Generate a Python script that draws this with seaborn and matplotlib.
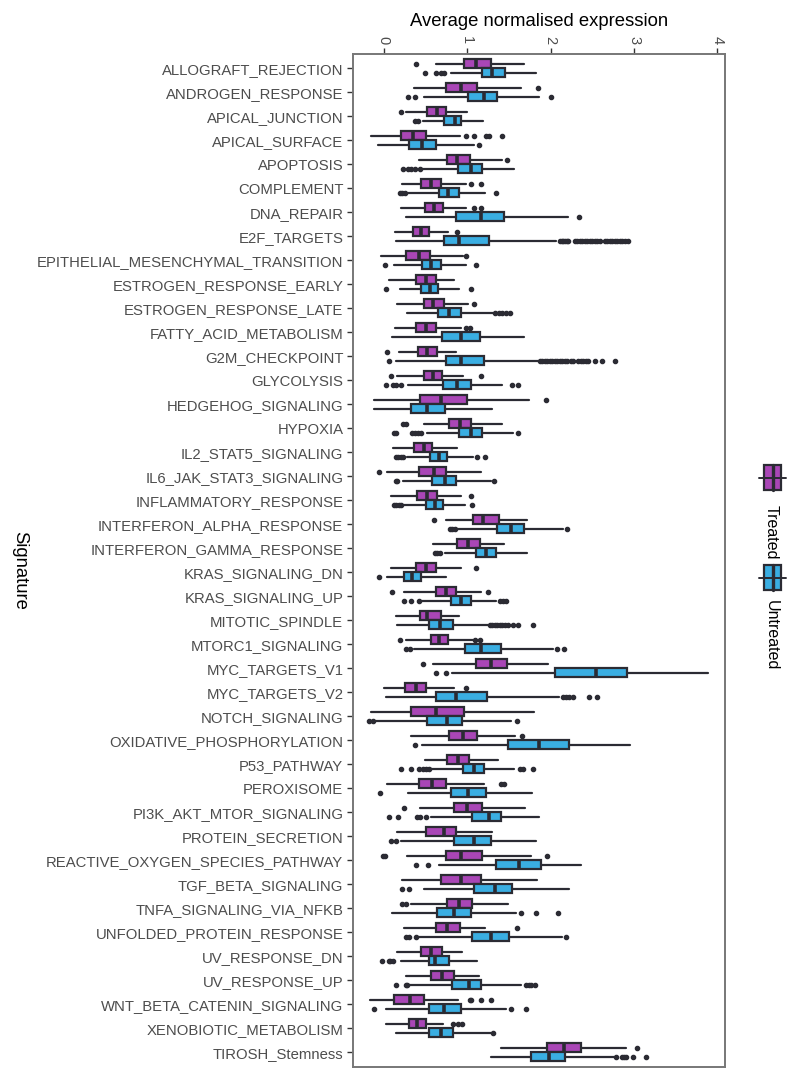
import numpy as np
import matplotlib
matplotlib.use("Agg")
import matplotlib.pyplot as plt
from matplotlib.patches import Rectangle
import seaborn as sns

signatures = [
    "ALLOGRAFT_REJECTION", "ANDROGEN_RESPONSE", "APICAL_JUNCTION", "APICAL_SURFACE",
    "APOPTOSIS", "COMPLEMENT", "DNA_REPAIR", "E2F_TARGETS",
    "EPITHELIAL_MESENCHYMAL_TRANSITION", "ESTROGEN_RESPONSE_EARLY", "ESTROGEN_RESPONSE_LATE",
    "FATTY_ACID_METABOLISM", "G2M_CHECKPOINT", "GLYCOLYSIS", "HEDGEHOG_SIGNALING", "HYPOXIA",
    "IL2_STAT5_SIGNALING", "IL6_JAK_STAT3_SIGNALING", "INFLAMMATORY_RESPONSE",
    "INTERFERON_ALPHA_RESPONSE", "INTERFERON_GAMMA_RESPONSE", "KRAS_SIGNALING_DN",
    "KRAS_SIGNALING_UP", "MITOTIC_SPINDLE", "MTORC1_SIGNALING", "MYC_TARGETS_V1",
    "MYC_TARGETS_V2", "NOTCH_SIGNALING", "OXIDATIVE_PHOSPHORYLATION", "P53_PATHWAY",
    "PEROXISOME", "PI3K_AKT_MTOR_SIGNALING", "PROTEIN_SECRETION",
    "REACTIVE_OXYGEN_SPECIES_PATHWAY", "TGF_BETA_SIGNALING", "TNFA_SIGNALING_VIA_NFKB",
    "UNFOLDED_PROTEIN_RESPONSE", "UV_RESPONSE_DN", "UV_RESPONSE_UP",
    "WNT_BETA_CATENIN_SIGNALING", "XENOBIOTIC_METABOLISM", "TIROSH_Stemness",
]
groups = ["Treated", "Untreated"]

# Treated: whisker low, Q1, median, Q3, whisker high, outliers
treated_wlo = [0.63, 0.36, 0.26, -0.15, 0.42, 0.22, 0.21, 0.13, -0.03, 0.06, 0.16, 0.13, 0.18, 0.16,
               -0.12, 0.48, 0.11, 0.04, 0.08, 0.74, 0.59, 0.08, 0.24, 0.14, 0.26, 0.59, 0.00, -0.15,
               0.33, 0.49, 0.04, 0.43, 0.16, 0.28, 0.22, 0.33, 0.24, 0.16, 0.27, -0.17, 0.03, 1.41]
treated_q1 = [0.96, 0.74, 0.52, 0.20, 0.76, 0.44, 0.49, 0.35, 0.27, 0.39, 0.48, 0.38, 0.41, 0.48,
              0.43, 0.78, 0.36, 0.42, 0.40, 1.07, 0.88, 0.38, 0.62, 0.43, 0.56, 1.11, 0.25, 0.33,
              0.78, 0.76, 0.42, 0.84, 0.51, 0.74, 0.68, 0.76, 0.62, 0.45, 0.56, 0.12, 0.30, 1.96]
treated_med = [1.11, 0.92, 0.64, 0.35, 0.88, 0.56, 0.60, 0.44, 0.42, 0.51, 0.59, 0.50, 0.52, 0.59,
               0.69, 0.91, 0.48, 0.60, 0.52, 1.19, 1.01, 0.50, 0.75, 0.52, 0.66, 1.29, 0.38, 0.63,
               0.95, 0.89, 0.58, 1.00, 0.72, 0.93, 0.92, 0.90, 0.76, 0.57, 0.70, 0.31, 0.40, 2.16]
treated_q3 = [1.28, 1.12, 0.74, 0.51, 1.03, 0.68, 0.71, 0.54, 0.55, 0.62, 0.72, 0.62, 0.64, 0.70,
              1.00, 1.05, 0.58, 0.75, 0.64, 1.38, 1.15, 0.62, 0.87, 0.68, 0.77, 1.48, 0.51, 0.96,
              1.12, 1.02, 0.74, 1.18, 0.87, 1.18, 1.16, 1.06, 0.91, 0.70, 0.84, 0.48, 0.51, 2.36]
treated_whi = [1.68, 1.65, 1.00, 0.91, 1.42, 0.99, 0.98, 0.77, 0.95, 0.84, 1.01, 0.93, 0.86, 0.95,
               1.74, 1.42, 0.88, 1.17, 0.93, 1.72, 1.44, 0.92, 1.17, 0.90, 1.07, 1.97, 0.84, 1.80,
               1.57, 1.37, 1.20, 1.69, 1.30, 1.76, 1.84, 1.49, 1.21, 0.94, 1.14, 0.89, 0.71, 2.90]
treated_out = [
    [0.39], [1.85], [0.21], [0.98, 1.08, 1.22, 1.26, 1.42], [1.48], [1.04, 1.16], [1.08, 1.17],
    [0.88], [0.98], [], [1.08], [0.98, 1.03], [0.04], [0.08, 1.16], [1.94], [0.23, 0.26], [],
    [-0.06], [1.05], [0.60], [], [1.11], [0.10, 1.25], [], [0.19, 1.09, 1.15], [0.47], [0.98], [],
    [1.66], [], [1.41, 1.44], [0.24], [], [-0.01, 0.01, 1.95], [], [0.22, 0.26], [1.60], [], [],
    [1.03, 1.05, 1.16, 1.29], [0.83, 0.89, 0.94], [3.04],
]

# Untreated
untreated_wlo = [0.80, 0.48, 0.47, -0.07, 0.46, 0.29, 0.26, 0.14, 0.12, 0.19, 0.28, 0.10, 0.14, 0.29,
                 -0.12, 0.52, 0.28, 0.23, 0.24, 0.87, 0.73, 0.04, 0.46, 0.16, 0.36, 0.82, 0.02, -0.09,
                 0.46, 0.57, 0.29, 0.56, 0.20, 0.66, 0.48, 0.10, 0.41, 0.20, 0.29, 0.02, 0.15, 1.28]
untreated_q1 = [1.18, 1.01, 0.72, 0.30, 0.89, 0.66, 0.86, 0.72, 0.46, 0.45, 0.65, 0.70, 0.75, 0.71,
                0.33, 0.90, 0.55, 0.58, 0.51, 1.36, 1.10, 0.24, 0.80, 0.54, 0.97, 2.05, 0.62, 0.52,
                1.49, 0.95, 0.80, 1.06, 0.84, 1.34, 1.08, 0.64, 1.06, 0.54, 0.82, 0.54, 0.54, 1.77]
untreated_med = [1.30, 1.20, 0.85, 0.46, 1.04, 0.77, 1.16, 0.90, 0.57, 0.55, 0.78, 0.92, 0.92, 0.88,
                 0.52, 1.04, 0.66, 0.73, 0.61, 1.52, 1.22, 0.34, 0.92, 0.67, 1.17, 2.54, 0.87, 0.76,
                 1.86, 1.08, 1.01, 1.26, 1.08, 1.62, 1.33, 0.84, 1.28, 0.61, 1.02, 0.72, 0.68, 1.98]
untreated_q3 = [1.45, 1.36, 0.92, 0.62, 1.18, 0.90, 1.44, 1.26, 0.68, 0.65, 0.92, 1.15, 1.20, 1.04,
                0.73, 1.18, 0.76, 0.87, 0.71, 1.68, 1.34, 0.44, 1.04, 0.83, 1.40, 2.92, 1.24, 0.94,
                2.22, 1.20, 1.22, 1.41, 1.28, 1.88, 1.54, 1.04, 1.50, 0.78, 1.17, 0.92, 0.83, 2.17]
untreated_whi = [1.82, 1.86, 1.19, 1.08, 1.56, 1.21, 2.21, 2.06, 0.98, 0.90, 1.31, 1.68, 1.85, 1.42,
                 1.30, 1.55, 1.07, 1.28, 0.97, 2.15, 1.72, 0.74, 1.35, 1.25, 2.03, 3.89, 2.10, 1.52,
                 2.95, 1.56, 1.78, 1.86, 1.82, 2.36, 2.22, 1.58, 2.13, 1.12, 1.64, 1.46, 1.28, 2.76]
untreated_out = [
    [0.49, 0.63, 0.69, 0.72], [0.29, 0.37, 2.00], [0.37, 0.41], [1.14],
    [0.23, 0.29, 0.33, 0.37, 0.43], [0.19, 0.22, 0.25, 1.34], [2.34],
    [2.11, 2.13, 2.15, 2.17, 2.19, 2.21, 2.29, 2.32, 2.35, 2.38, 2.41, 2.44, 2.47, 2.50, 2.53,
     2.56, 2.59, 2.65, 2.68, 2.71, 2.74, 2.77, 2.80, 2.83, 2.86, 2.89, 2.93],
    [0.01, 1.10], [0.02, 1.04], [1.33, 1.38, 1.42, 1.47, 1.51], [],
    [0.06, 1.87, 1.90, 1.93, 1.96, 1.99, 2.02, 2.05, 2.08, 2.11, 2.14, 2.17, 2.20, 2.24, 2.27,
     2.33, 2.36, 2.39, 2.42, 2.45, 2.53, 2.62, 2.77],
    [0.03, 0.11, 0.14, 0.21, 1.54, 1.61], [],
    [0.12, 0.14, 0.34, 0.37, 0.41, 0.44, 1.61], [0.14, 0.17, 0.20, 0.23, 1.12, 1.21],
    [0.14, 0.16, 1.32], [0.12, 0.15, 0.18, 0.21, 1.06], [0.79, 0.82, 0.85, 2.20],
    [0.61, 0.64, 0.67], [-0.06], [0.24, 0.33, 0.42, 1.39, 1.43, 1.47],
    [1.27, 1.30, 1.33, 1.36, 1.39, 1.42, 1.45, 1.49, 1.55, 1.61, 1.79],
    [0.27, 0.31, 2.07, 2.16], [0.62, 0.74], [2.15, 2.18, 2.22, 2.27, 2.46, 2.56],
    [-0.18, -0.13, 1.60], [0.37], [0.20, 0.32, 0.42, 0.47, 0.50, 0.54, 1.63, 1.67, 1.79],
    [-0.05], [0.06, 0.17, 0.40, 0.43, 0.51], [0.09, 0.15], [0.38, 0.53], [0.22, 0.30],
    [1.65, 1.83, 2.09], [0.27, 0.30, 0.38, 2.18], [-0.02, 0.06, 0.07, 0.11],
    [0.14, 0.26, 0.28, 1.71, 1.74, 1.77, 1.81], [-0.12, 1.52, 1.71], [1.31],
    [2.78, 2.85, 2.88, 2.90, 2.99, 3.14],
]

x_ticks = [0, 1, 2, 3, 4]
colors = {"Treated": "#A946B6", "Untreated": "#3AAEE2"}
edge = "#2B2B33"

sns.set_theme(style="white")
plt.rcParams["font.family"] = ["Liberation Sans", "DejaVu Sans"]

fig = plt.figure(figsize=(8, 10.81), dpi=100)
ax = fig.add_axes([353 / 800, 1 - 1067 / 1081, (725 - 353) / 800, (1067 - 54) / 1081])

def make_stats(wlo, q1, med, q3, whi, out):
    return [dict(whislo=a, q1=b, med=c, q3=d, whishi=e, fliers=np.array(f))
            for a, b, c, d, e, f in zip(wlo, q1, med, q3, whi, out)]

series = {
    "Treated": make_stats(treated_wlo, treated_q1, treated_med, treated_q3, treated_whi, treated_out),
    "Untreated": make_stats(untreated_wlo, untreated_q1, untreated_med, untreated_q3, untreated_whi, untreated_out),
}
offsets = {"Treated": -0.1875, "Untreated": 0.1875}
base = np.arange(len(signatures))
for g in groups:
    ax.bxp(series[g], positions=base + offsets[g], widths=0.375, orientation="horizontal",
           patch_artist=True, showcaps=False, manage_ticks=False,
           boxprops=dict(facecolor=colors[g], edgecolor=edge, linewidth=1.6),
           whiskerprops=dict(color=edge, linewidth=1.6),
           medianprops=dict(color=edge, linewidth=2.6),
           flierprops=dict(marker="o", markerfacecolor=edge, markeredgecolor=edge,
                           markersize=3.0, linestyle="none"))

ax.set_ylim(len(signatures) - 1 + 0.62, -0.6)
ax.set_xlim(-0.37, 4.09)
ax.set_yticks(base)
ax.set_yticklabels(signatures, fontsize=10.7, color="#4D4D4D")
ax.xaxis.tick_top()
ax.xaxis.set_label_position("top")
ax.set_xticks(x_ticks)
ax.set_xticklabels([str(t) for t in x_ticks], fontsize=10.5, color="#4D4D4D", rotation=-90)
ax.tick_params(axis="both", which="both", direction="out", length=4, width=1, color="#333333",
               pad=3, left=True, top=True, bottom=False)
ax.set_xlabel("Average normalised expression", fontsize=13.3, color="black", labelpad=7)
for s in ax.spines.values():
    s.set_color("#777777")
    s.set_linewidth(1.4)
    s.set_visible(True)
ax.grid(False)

fig.text(20 / 800, 1 - 570 / 1081, "Signature", rotation=-90, fontsize=13.3, color="black",
         ha="center", va="center")

# legend
lax = fig.add_axes([0, 0, 1, 1])
lax.set_xlim(0, 800)
lax.set_ylim(1081, 0)
lax.axis("off")
for g, (top, ty) in zip(groups, [(465, 505), (565, 600)]):
    lax.plot([759, 786], [top + 12.5, top + 12.5], color=edge, lw=1.4)
    lax.add_patch(Rectangle((764, top), 17, 25, facecolor=colors[g], edgecolor=edge, lw=1.6))
    lax.plot([772.5, 772.5], [top, top + 25], color=edge, lw=2.4)
    lax.text(771, ty, g, rotation=-90, fontsize=11.5, color="black", ha="center", va="top")

fig.savefig("out.png", dpi=100)
